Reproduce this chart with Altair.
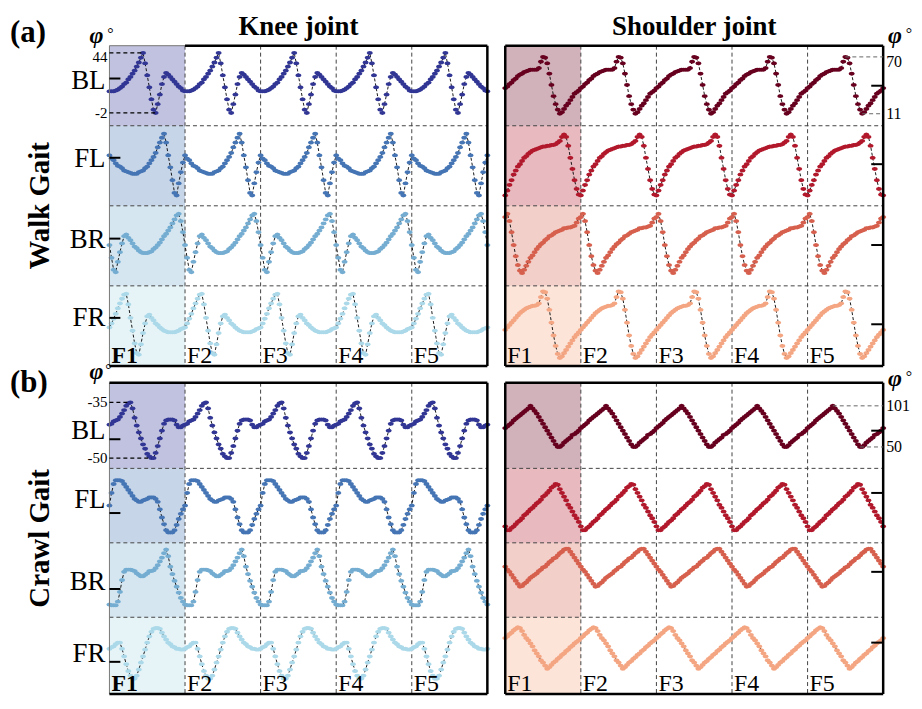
import altair as alt
import pandas as pd

SERIF = "Liberation Serif"

ROWS = ["BL", "FL", "BR", "FR"]
FRAMES = ["F1", "F2", "F3", "F4", "F5"]
PANEL_TAGS = ["(a)", "(b)"]
GAIT_NAMES = ["Walk Gait", "Crawl Gait"]
JOINT_NAMES = ["Knee joint", "Shoulder joint"]

KNEE_COLORS = ["#313695", "#4575b4", "#74add1", "#abd9e9"]
SHOULDER_COLORS = ["#67001f", "#b2182b", "#d6604d", "#f4a582"]

# angle ranges printed beside the BL rows (degrees): [max, min]
walk_knee_range = ["44", "-2"]
walk_shoulder_range = ["70", "11"]
crawl_knee_range = ["-35", "-50"]
crawl_shoulder_range = ["101", "50"]

# one gait cycle per leg (36 equal time steps); level in the leg's row, % from top (0) to bottom (100)
walk_knee_BL = [57,57,57,56,55,53,51,48,46,42,39,35,31,26,21,15,9,22,37,52,67,80,84,73,61,48,39,34,36,39,42,45,48,51,53,56]
walk_knee_FL = [37,41,43,47,50,51,53,56,57,58,59,60,60,60,58,57,56,53,51,47,43,39,34,27,21,15,10,21,37,52,68,84,87,72,58,46]
walk_knee_BR = [49,65,80,83,70,58,47,38,36,40,43,47,51,53,56,58,59,59,59,58,57,54,52,49,46,42,38,35,31,27,22,17,12,10,19,33]
walk_knee_FR = [52,47,41,35,28,22,16,11,10,23,40,56,72,84,86,73,59,47,38,36,40,43,47,49,52,54,56,57,58,58,58,58,57,56,54,53]

walk_shoulder_BL = [53,51,48,46,43,41,38,36,35,33,32,31,30,30,30,30,28,20,14,15,22,35,49,63,73,80,85,83,79,75,72,68,64,60,58,56]
walk_shoulder_FL = [87,81,74,68,61,56,51,48,44,40,38,35,33,31,30,29,28,27,26,26,25,25,24,24,23,21,19,14,11,14,25,40,54,68,79,86]
walk_shoulder_BR = [14,10,19,33,49,63,74,81,84,80,75,70,65,62,58,54,51,48,46,43,41,38,37,35,33,32,31,30,28,28,27,27,26,25,21,16]
walk_shoulder_FR = [55,52,49,46,43,40,37,34,32,30,28,27,26,25,25,24,22,14,7,8,16,30,46,62,75,85,90,88,84,80,76,72,68,64,61,58]

crawl_knee_BL = [49,48,45,44,43,40,36,32,27,24,23,30,41,50,58,65,72,77,83,86,88,88,82,74,65,56,48,44,43,43,43,44,49,52,52,50]
crawl_knee_FL = [50,33,21,16,16,16,17,21,25,29,33,37,41,43,45,45,43,42,41,39,39,39,41,45,55,66,75,83,86,86,86,83,76,68,61,55]
crawl_knee_BR = [83,84,84,84,79,66,50,39,36,36,36,37,38,41,43,45,45,43,41,38,38,37,34,30,25,20,14,9,18,32,42,51,59,67,74,79]
crawl_knee_FR = [41,39,38,35,33,33,41,51,61,70,76,80,80,76,68,59,51,42,33,25,19,15,14,14,15,20,25,29,33,35,38,39,41,41,42,42]

crawl_shoulder_BL = [53,51,49,47,44,42,40,38,36,34,32,30,27,30,33,36,40,44,48,52,56,60,64,68,72,75,75,73,70,68,66,64,61,60,58,56]
crawl_shoulder_FL = [78,83,83,80,78,75,72,70,67,63,61,58,55,53,50,47,45,42,38,36,33,30,26,24,21,22,28,33,38,43,49,53,58,63,67,72]
crawl_shoulder_BR = [32,36,39,43,47,51,55,59,58,55,53,50,47,45,43,41,38,36,33,32,29,26,24,21,20,17,14,12,9,8,8,12,16,20,24,28]
crawl_shoulder_FR = [27,25,22,20,17,15,13,14,18,23,27,30,34,38,43,47,51,56,59,63,67,65,62,59,57,54,52,49,47,44,42,39,37,34,32,30]

TRACES = [
    [[walk_knee_BL, walk_knee_FL, walk_knee_BR, walk_knee_FR],
     [walk_shoulder_BL, walk_shoulder_FL, walk_shoulder_BR, walk_shoulder_FR]],
    [[crawl_knee_BL, crawl_knee_FL, crawl_knee_BR, crawl_knee_FR],
     [crawl_shoulder_BL, crawl_shoulder_FL, crawl_shoulder_BR, crawl_shoulder_FR]],
]
RANGES = [[walk_knee_range, walk_shoulder_range], [crawl_knee_range, crawl_shoulder_range]]
COLORS = [KNEE_COLORS, SHOULDER_COLORS]

# ---------------- layout (in cycle units / row units) ----------------
N = 36
XG = 18 / 76
X0 = [0.0, 5.0 + XG]
XMAX = 10.0 + XG
EDGES = [[0, 1, 2, 3, 4], [4.21, 5.28, 6.21, 7.14, 8.10]]
YMAX = 8.10
W, H = 778, 652
PX = XMAX / W      # x units per pixel
PY = YMAX / H      # y units per pixel

KNEE_LABEL_FRAC = [[0.44, 0.41, 0.43, 0.40], [0.57, 0.42, 0.53, 0.48]]
KNEE_TICK_FRAC = [[0.41, 0.40, 0.41, 0.40], [0.66, 0.60, 0.62, 0.58]]
SHOULDER_TICK_FRAC = [[0.50, 0.48, 0.49, 0.48], [0.56, 0.33, 0.39, 0.33]]

XS = alt.Scale(domain=[0, XMAX], nice=False, zero=False)
YS = alt.Scale(domain=[0, YMAX], nice=False, zero=False, reverse=True)


def X(f="x"):
    return alt.X(f"{f}:Q", scale=XS, axis=None)


def Y(f="y"):
    return alt.Y(f"{f}:Q", scale=YS, axis=None)


def ry(g, r, p):
    top, bot = EDGES[g][r], EDGES[g][r + 1]
    return top + (bot - top) * p / 100.0


# ---------------- data frames ----------------
pts = []
for g in range(2):
    for j in range(2):
        for r in range(4):
            vals = TRACES[g][j][r]
            sid = f"{g}-{j}-{r}"
            n = 0
            for k in range(5):
                for i, v in enumerate(vals):
                    pts.append(dict(series=sid, o=n, x=X0[j] + k + i / N, y=ry(g, r, v), color=COLORS[j][r]))
                    n += 1
            pts.append(dict(series=sid, o=n, x=X0[j] + 5, y=ry(g, r, vals[0]), color=COLORS[j][r]))
pts = pd.DataFrame(pts)

shade = []
for g in range(2):
    for j in range(2):
        for r in range(4):
            shade.append(dict(x=X0[j], x2=X0[j] + 1, y=EDGES[g][r], y2=EDGES[g][r + 1], color=COLORS[j][r]))
shade = pd.DataFrame(shade)

grid = []
for g in range(2):
    for j in range(2):
        for k in range(1, 5):
            grid.append(dict(x=X0[j] + k, x2=X0[j] + k, y=EDGES[g][0], y2=EDGES[g][4]))
        for r in range(1, 4):
            grid.append(dict(x=X0[j], x2=X0[j] + 5, y=EDGES[g][r], y2=EDGES[g][r]))
grid = pd.DataFrame(grid)

thick = []
thin = []
for g in range(2):
    top, bot = EDGES[g][0], EDGES[g][4]
    # knee panel
    thick.append(dict(x=1 if g == 0 else 0, x2=5, y=top, y2=top))
    thick.append(dict(x=0, x2=5, y=bot, y2=bot))
    thick.append(dict(x=5, x2=5, y=top, y2=bot))
    thin.append(dict(x=0, x2=0, y=top, y2=bot))
    if g == 0:
        thin.append(dict(x=0, x2=1, y=top, y2=top))
    # shoulder panel
    s = X0[1]
    thick.append(dict(x=s, x2=s + 5, y=top, y2=top))
    thick.append(dict(x=s, x2=s + 5, y=bot, y2=bot))
    thick.append(dict(x=s, x2=s, y=top, y2=bot))
    thick.append(dict(x=s + 5, x2=s + 5, y=top, y2=bot))
thick = pd.DataFrame(thick)
thin = pd.DataFrame(thin)

ticks = []
for g in range(2):
    for r in range(4):
        yk = EDGES[g][r] + (EDGES[g][r + 1] - EDGES[g][r]) * KNEE_TICK_FRAC[g][r]
        ticks.append(dict(x=0, x2=11 * PX, y=yk, y2=yk))
        ys = EDGES[g][r] + (EDGES[g][r + 1] - EDGES[g][r]) * SHOULDER_TICK_FRAC[g][r]
        ticks.append(dict(x=X0[1] + 5 - 12 * PX, x2=X0[1] + 5, y=ys, y2=ys))
ticks = pd.DataFrame(ticks)

# reference lines + range numbers for BL rows
ref_k, ref_s, num_r, num_l = [], [], [], []
for g in range(2):
    for j in range(2):
        vals = TRACES[g][j][0]
        hi_i = vals.index(min(vals))
        lo_i = vals.index(max(vals))
        y_hi = ry(g, 0, min(vals))
        y_lo = ry(g, 0, max(vals))
        hi_txt, lo_txt = RANGES[g][j]
        if j == 0:
            ref_k.append(dict(x=0, x2=hi_i / N, y=y_hi, y2=y_hi))
            ref_k.append(dict(x=0, x2=lo_i / N, y=y_lo, y2=y_lo))
            dy = 4 * PY if g == 0 else 0
            num_r.append(dict(x=-2 * PX, y=y_hi + dy, text=hi_txt))
            num_r.append(dict(x=-2 * PX, y=y_lo, text=lo_txt))
        else:
            s = X0[1]
            ref_s.append(dict(x=s + 4 + hi_i / N, x2=s + 5, y=y_hi, y2=y_hi))
            ref_s.append(dict(x=s + 4 + lo_i / N, x2=s + 5, y=y_lo, y2=y_lo))
            dy = 5 * PY if g == 0 else 0
            num_l.append(dict(x=s + 5 + 3 * PX, y=y_hi + dy, text=hi_txt))
            num_l.append(dict(x=s + 5 + 3 * PX, y=y_lo, text=lo_txt))
ref_k = pd.DataFrame(ref_k)
ref_s = pd.DataFrame(ref_s)
num_r = pd.DataFrame(num_r)
num_l = pd.DataFrame(num_l)

row_lab = []
for g in range(2):
    for r in range(4):
        yl = EDGES[g][r] + (EDGES[g][r + 1] - EDGES[g][r]) * KNEE_LABEL_FRAC[g][r]
        row_lab.append(dict(x=-4 * PX, y=yl, text=ROWS[r]))
row_lab = pd.DataFrame(row_lab)

f_reg, f_bold = [], []
for g in range(2):
    for j in range(2):
        for k in range(5):
            d = dict(x=X0[j] + k + 2 * PX, y=EDGES[g][4] - 3 * PY, text=FRAMES[k])
            (f_bold if (j == 0 and k == 0) else f_reg).append(d)
f_reg = pd.DataFrame(f_reg)
f_bold = pd.DataFrame(f_bold)

titles = pd.DataFrame([
    dict(x=2.5, y=-11 * PY, text=JOINT_NAMES[0]),
    dict(x=X0[1] + 2.5, y=-11 * PY, text=JOINT_NAMES[1]),
])
tags = pd.DataFrame([
    dict(x=-100 * PX, y=-4 * PY, text=PANEL_TAGS[0]),
    dict(x=-100 * PX, y=EDGES[1][0] + 9 * PY, text=PANEL_TAGS[1]),
])
gaits = pd.DataFrame([
    dict(x=-70 * PX, y=(EDGES[0][0] + EDGES[0][4]) / 2, text=GAIT_NAMES[0]),
    dict(x=-70 * PX, y=(EDGES[1][0] + EDGES[1][4]) / 2, text=GAIT_NAMES[1]),
])
phi = pd.DataFrame([
    dict(x=-13 * PX, y=-3 * PY, text="φ"),
    dict(x=-13 * PX, y=EDGES[1][0] - 4 * PY, text="φ"),
    dict(x=X0[1] + 5 + 12 * PX, y=-3 * PY, text="φ"),
    dict(x=X0[1] + 5 + 12 * PX, y=EDGES[1][0] + 3 * PY, text="φ"),
])
deg = pd.DataFrame([
    dict(x=1 * PX, y=-7 * PY, text="°"),
    dict(x=-1 * PX, y=EDGES[1][0] - 8 * PY, text="°"),
    dict(x=X0[1] + 5 + 26 * PX, y=-7 * PY, text="°"),
    dict(x=X0[1] + 5 + 26 * PX, y=EDGES[1][0] - 1 * PY, text="°"),
])

# ---------------- layers ----------------
ELLIPSE = "M-1,0L-0.72,-0.45L0,-0.65L0.72,-0.45L1,0L0.72,0.45L0,0.65L-0.72,0.45Z"


def rules(df, **kw):
    return alt.Chart(df).mark_rule(**kw).encode(x=X(), x2="x2:Q", y=Y(), y2="y2:Q")


def texts(df, **kw):
    return alt.Chart(df).mark_text(font=SERIF, **kw).encode(x=X(), y=Y(), text="text:N")


shade_l = alt.Chart(shade).mark_rect(opacity=0.3).encode(
    x=X(), x2="x2:Q", y=Y(), y2="y2:Q", color=alt.Color("color:N", scale=None))
grid_l = rules(grid, color="#444444", strokeWidth=1, strokeDash=[4, 3])
line_l = alt.Chart(pts).mark_line(color="black", strokeWidth=0.9, strokeDash=[3, 2]).encode(
    x=X(), y=Y(), detail="series:N", order="o:Q")
pts_l = alt.Chart(pts).mark_point(filled=True, shape=ELLIPSE, size=38, opacity=1).encode(
    x=X(), y=Y(), color=alt.Color("color:N", scale=None))
thick_l = rules(thick, color="black", strokeWidth=2.5)
thin_l = rules(thin, color="#777777", strokeWidth=1)
ticks_l = rules(ticks, color="black", strokeWidth=2)
refk_l = rules(ref_k, color="black", strokeWidth=1.3, strokeDash=[4, 3])
refs_l = rules(ref_s, color="#666666", strokeWidth=1, strokeDash=[4, 3])

chart = alt.layer(
    shade_l, grid_l, line_l, pts_l, thin_l, thick_l, ticks_l, refk_l, refs_l,
    texts(num_r, align="right", baseline="middle", fontSize=15, color="black"),
    texts(num_l, align="left", baseline="middle", fontSize=16, color="black"),
    texts(row_lab, align="right", baseline="middle", fontSize=27, color="black"),
    texts(f_reg, align="left", baseline="alphabetic", fontSize=24, color="black"),
    texts(f_bold, align="left", baseline="alphabetic", fontSize=24, fontWeight="bold", color="black"),
    texts(titles, align="center", baseline="alphabetic", fontSize=27, fontWeight="bold", color="black"),
    texts(tags, align="left", baseline="alphabetic", fontSize=31, fontWeight="bold", color="black"),
    texts(gaits, align="center", baseline="middle", fontSize=29, fontWeight="bold", angle=270, color="black"),
    texts(phi, align="center", baseline="alphabetic", fontSize=24, fontWeight="bold", fontStyle="italic", color="black"),
    texts(deg, align="center", baseline="alphabetic", fontSize=16, color="black"),
).properties(
    width=W, height=H,
    autosize=alt.AutoSizeParams(type="none"),
    padding={"left": 102, "top": 36, "right": 31, "bottom": 1},
).configure_view(stroke=None)

chart.save("out.html", embed_options={"renderer": "svg", "actions": False})
